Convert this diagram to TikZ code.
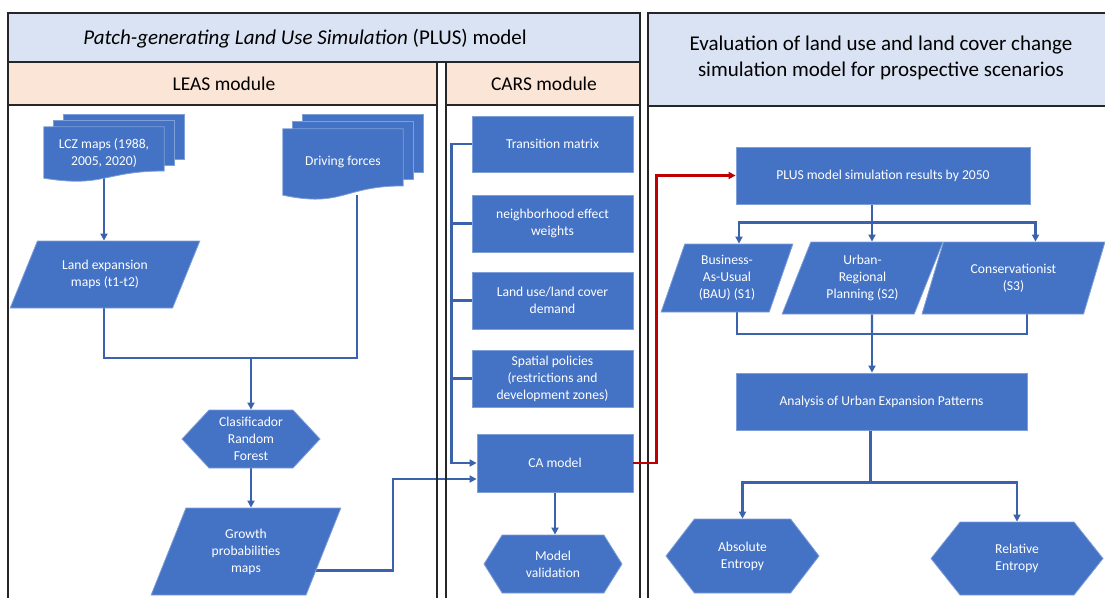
\documentclass[tikz,border=0pt]{standalone}
\usepackage{fontspec}
\setmainfont{Carlito}
\usetikzlibrary{arrows.meta,calc,positioning,shapes.geometric,shapes.symbols,backgrounds}
\definecolor{BoxClr}{HTML}{4472C4}
\definecolor{BoxLineClr}{HTML}{7F9FD8}
\definecolor{LinkClr}{HTML}{3B62AC}
\definecolor{HeadClr}{HTML}{DAE3F3}
\definecolor{ModClr}{HTML}{FBE5D6}
\definecolor{RedClr}{HTML}{C00000}
\newcommand{\boxfont}{\fontsize{13.6}{17}\selectfont}
\newcommand{\headfont}{\fontsize{21}{26}\selectfont}
\newcommand{\modfont}{\fontsize{19.5}{25}\selectfont}

\tikzset{
  frame/.style={draw=black!85, line width=1.6pt},
  box/.style={rectangle, fill=BoxClr, draw=BoxLineClr, line width=0.8pt, text=white, font=\boxfont, align=center, inner sep=2pt},
  databox/.style={box, trapezium, trapezium stretches=true, trapezium left angle=#1, trapezium right angle=180-#1},
  hexbox/.style={box, signal, signal from=nowhere, signal to=east and west, signal pointer angle=#1},
  docnode/.style={text=white, font=\boxfont, align=center, inner sep=0pt},
  sheet/.style={fill=BoxClr, draw=BoxLineClr, line width=0.8pt},
  link/.style={draw=LinkClr, line width=2.4pt},
  arrow/.style={link, -{Triangle[length=7pt,width=7pt]}},
  redarrow/.style={arrow, draw=RedClr, line width=2.4pt},
}

% stacked documents behind a text node: #1 node, #2 vertical offset
\newcommand{\sheetstack}[2]{%
  \foreach \k in {2,1}
    \draw[sheet] ($(#1.north west)+(10*\k,-#2*\k)$) rectangle ($(#1.north east)!0.86!(#1.south east)+(10*\k,-#2*\k)$);
  \draw[sheet] (#1.north west) -- (#1.north east) -- ($(#1.north east)!0.86!(#1.south east)$)
    .. controls ($(#1.north)!0.86!(#1.south)$) and ($(#1.north)!1.19!(#1.south)$) .. (#1.south west) -- cycle;
}

\begin{document}
\begin{tikzpicture}[x=1pt,y=-1pt]
\useasboundingbox (0,0) rectangle (1105,597);
\clip (0,0) rectangle (1105,597);

% frames
\draw[frame, fill=HeadClr] (8,13) rectangle (640,62);
\draw[frame, fill=ModClr] (8,62) rectangle (437,105);
\draw[frame] (8,105) rectangle (437,620);
\draw[frame, fill=ModClr] (446,62) rectangle (640,105);
\draw[frame] (446,105) rectangle (640,620);
\draw[frame, fill=HeadClr] (648,13) rectangle (1130,106);
\draw[frame] (648,106) rectangle (1130,620);

\node[font=\headfont] (plus) at (305,39) {\textit{Patch-generating Land Use Simulation} (PLUS) model};
\node[font=\modfont] (leas) at (224,84) {LEAS module};
\node[font=\modfont] (cars) at (544,84) {CARS module};
\node[font=\headfont, align=center] (eval) at (881,58) {Evaluation of land use and land cover change\\simulation model for prospective scenarios};

% LEAS module
\node[docnode, minimum width=120, minimum height=51] (lcz) at (104,152.5) {LCZ maps (1988,\\2005, 2020)};
\node[docnode, minimum width=120, minimum height=66] (drive) at (343,162) {Driving forces};
\node[databox=61, minimum width=190, minimum height=67] (landexp) at (105,274.5) {Land expansion\\maps (t1-t2)};
\node[hexbox=94, minimum width=138, minimum height=58] (rf) at (251,439) {Clasificador\\Random\\Forest};
\node[databox=67, minimum width=190, minimum height=87] (growth) at (246,551.5) {Growth\\probabilities\\maps};
\coordinate (join) at (251,358);

% CARS module
\node[box, minimum width=161, minimum height=56] (trans) at (552.5,144) {Transition matrix};
\node[box, minimum width=161, minimum height=57] (neigh) at (552.5,223.5) {neighborhood effect\\weights};
\node[box, minimum width=161, minimum height=57] (demand) at (552.5,300.5) {Land use/land cover\\demand};
\node[box, minimum width=161, minimum height=57] (policy) at (552.5,378.5) {Spatial policies\\(restrictions and\\development zones)};
\node[box, minimum width=156, minimum height=58] (ca) at (555,463) {CA model};
\node[hexbox=116, minimum width=138, minimum height=58] (valid) at (553,564) {Model\\validation};

% evaluation
\node[box, minimum width=294, minimum height=57] (results) at (883,175.5) {PLUS model simulation results by 2050};
\node[databox=71, minimum width=132, minimum height=68] (bau) at (727,278) {Business-\\As-Usual\\(BAU) (S1)};
\node[databox=67, minimum width=161, minimum height=72] (urban) at (862.5,278) {Urban-\\Regional\\Planning (S2)};
\node[databox=67, minimum width=183, minimum height=72] (cons) at (1013.5,278) {Conservationist\\(S3)};
\node[box, minimum width=291, minimum height=57] (analysis) at (881.5,401.5) {Analysis of Urban Expansion Patterns};
\node[hexbox=105, minimum width=153, minimum height=74] (absent) at (742.5,556) {Absolute\\Entropy};
\node[hexbox=103, minimum width=172, minimum height=73] (relent) at (1017,558.5) {Relative\\Entropy};
\coordinate (merge) at (872,334);

\begin{pgfonlayer}{background}
% connectors
\draw[arrow] (lcz.south) -- (lcz.south |- landexp.north);
\draw[link] (lcz.south |- landexp.south) |- (join) -| ([xshift=14]drive.south);
\draw[arrow] (join) -- (join |- rf.north);
\draw[arrow] (rf.south) -- (rf.south |- growth.north);
\draw[arrow] ([yshift=-19]growth.center) -- ++(147,0) |- ([yshift=-16]ca.west);

\draw[arrow] (trans.west) -- ++(-20,0) |- (ca.west);
\foreach \n in {neigh,demand,policy}
  \draw[link] (\n.west) -- ++(-20,0);
\draw[arrow] (ca.south) -- (ca.south |- valid.north);

\draw[link] ([xshift=-11]results.south) -- ++(0,18) coordinate (split);
\draw[arrow] (split) -| ([xshift=12]bau.north);
\draw[arrow] (split) -- (split |- urban.north);
\draw[arrow] (split) -| ([xshift=22]cons.north);
\draw[link] ([xshift=10]bau.south) |- (merge) -| ([xshift=13.5]cons.south);
\draw[link] ([xshift=9.5]urban.south) -- (merge);
\draw[arrow] (merge) -- (merge |- analysis.north);
\draw[link] ([xshift=-11]analysis.south) -- ++(0,52) coordinate (fork);
\draw[arrow] (fork) -| (absent.north);
\draw[arrow] (fork) -| (relent.north);

% document sheets
\sheetstack{lcz}{6}
\sheetstack{drive}{7}
\end{pgfonlayer}

\draw[redarrow] (ca.east) -- ++(23,0) |- (results.west);

\end{tikzpicture}
\end{document}
